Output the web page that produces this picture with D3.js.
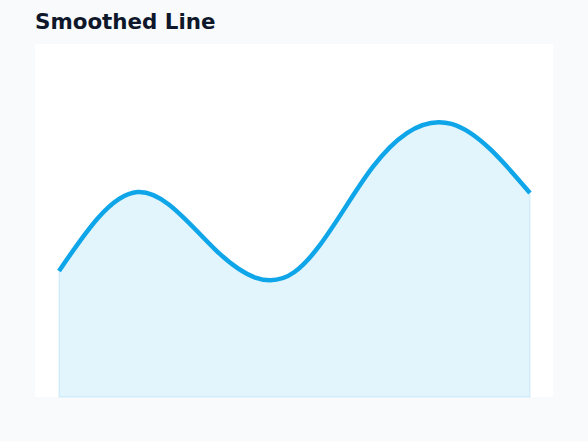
<!DOCTYPE html>
<html>
<head>
<meta charset="utf-8">
<script src="https://cdn.jsdelivr.net/npm/d3@7"></script>
<style>
  html, body { margin: 0; padding: 0; background: #f8fafc; }
  svg { display: block; }
</style>
</head>
<body>
<div id="chart"></div>
<script>
var width = 588,
height = 441;

// data points (index positions)
var categories = ['P1', 'P2', 'P3', 'P4', 'P5', 'P6', 'P7'];
var values = [38.3, 62.3, 44.6, 38.0, 70.0, 83.0, 62.0];

var panel = { x: 35, y: 44, w: 518, h: 353 },
inner = { left: 24, right: 23, top: 24, bottom: 0 };

const svg = d3.select('#chart').
append('svg').
attr('width', width).
attr('height', height);

svg.append('text').
attr('x', 35).
attr('y', 29).
attr('font-family', 'DejaVu Sans, sans-serif').
attr('font-weight', 'bold').
attr('font-size', 21.4).
attr('fill', '#0f172a').
text('Smoothed Line');

svg.append('rect').
attr('x', panel.x).
attr('y', panel.y).
attr('width', panel.w).
attr('height', panel.h).
attr('fill', '#ffffff');

var xScale = d3.scalePoint().
domain(categories).
range([panel.x + inner.left, panel.x + panel.w - inner.right]);

var yScale = d3.scaleLinear().
domain([0, 100]).
range([panel.y + panel.h - inner.bottom, panel.y + inner.top]);

var data = categories.map((c, i) => ({ c: c, v: values[i] }));

var area = d3.area().
x(d => xScale(d.c)).
y0(yScale(0)).
y1(d => yScale(d.v)).
curve(d3.curveNatural);

var line = d3.line().
x(d => xScale(d.c)).
y(d => yScale(d.v)).
curve(d3.curveNatural);

svg.append('path').
datum(data).
attr('d', area).
attr('fill', '#0ea5e9').
attr('fill-opacity', 0.12).
attr('stroke', '#0ea5e9').
attr('stroke-opacity', 0.1).
attr('stroke-width', 1.5);

svg.append('path').
datum(data).
attr('d', line).
attr('fill', 'none').
attr('stroke', '#0ea5e9').
attr('stroke-width', 4.5);
</script>
</body>
</html>
